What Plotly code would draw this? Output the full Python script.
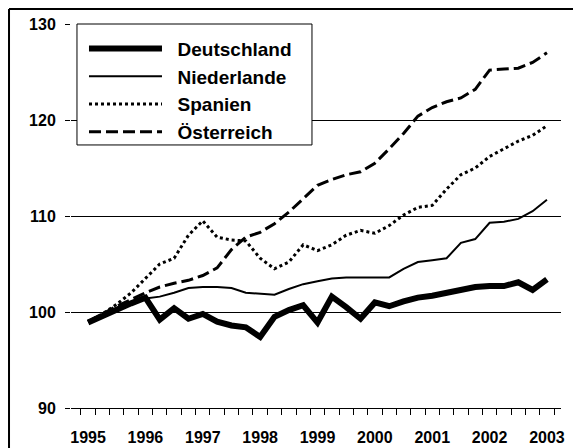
import plotly.graph_objects as go

quarters = [f"{y}Q{q}" for y in range(1995, 2004) for q in range(1, 5)][:33]
year_labels = ["1995", "1996", "1997", "1998", "1999", "2000", "2001", "2002", "2003"]

deutschland = [98.9, 99.6, 100.3, 100.9, 101.5, 99.2, 100.4, 99.3, 99.8, 99.0, 98.6, 98.4,
               97.4, 99.5, 100.2, 100.7, 98.9, 101.6, 100.5, 99.3, 101.0, 100.6, 101.1, 101.5,
               101.7, 102.0, 102.2, 102.6, 102.7, 102.7, 103.1, 102.3, 103.4]
niederlande = [99.0, 99.7, 100.4, 101.0, 101.4, 101.6, 102.0, 102.5, 102.6, 102.6, 102.5, 102.0,
               101.9, 101.8, 102.4, 102.9, 103.2, 103.5, 103.6, 103.6, 103.6, 103.6, 104.5, 105.2,
               105.4, 105.6, 107.2, 107.6, 109.3, 109.4, 109.7, 110.5, 111.7]
spanien = [99.0, 99.8, 100.8, 102.0, 103.5, 105.0, 105.6, 108.0, 109.5, 107.8, 107.5, 107.4,
           105.6, 104.5, 105.2, 107.0, 106.4, 107.0, 108.0, 108.5, 108.2, 109.0, 110.1, 110.9,
           111.1, 112.8, 114.3, 115.0, 116.2, 117.0, 117.8, 118.4, 119.4]
oesterreich = [99.0, 99.8, 100.6, 101.3, 102.0, 102.6, 103.0, 103.3, 103.8, 104.6, 106.5, 107.8,
               108.3, 109.2, 110.4, 111.8, 113.2, 113.8, 114.3, 114.6, 115.5, 117.0, 118.6, 120.4,
               121.3, 121.9, 122.3, 123.2, 125.2, 125.3, 125.4, 126.0, 127.0]

x = list(range(len(quarters)))

series = [
    ("Deutschland", deutschland, dict(color="black", width=6)),
    ("Niederlande", niederlande, dict(color="black", width=2)),
    ("Spanien", spanien, dict(color="black", width=3, dash="dot")),
    ("Österreich", oesterreich, dict(color="black", width=3, dash="12px,5px")),
]

fig = go.Figure()
for name, vals, line in series:
    fig.add_trace(go.Scatter(x=x, y=vals, name="\u00a0\u00a0" + name, mode="lines", line=line,
                             customdata=quarters))

tickfont = dict(size=16, family="Liberation Sans, Arial, sans-serif", weight="bold")

fig.update_layout(
    width=573, height=440,
    margin=dict(l=63, r=20, t=16, b=40),
    paper_bgcolor="white", plot_bgcolor="white",
    font=dict(family="Liberation Sans, Arial, sans-serif", color="black"),
    showlegend=True,
    legend=dict(x=0.0265, y=0.985, xanchor="left", yanchor="top",
                borderwidth=0, bgcolor="rgba(0,0,0,0)",
                font=dict(size=19, weight="bold"), itemwidth=73,
                traceorder="normal"),
    xaxis=dict(range=[-1.19, 32.98], showgrid=False, zeroline=False, automargin=False,
               showline=True, linecolor="black", linewidth=1,
               tickmode="array", tickvals=[0, 4, 8, 12, 16, 20, 24, 28, 32],
               ticktext=year_labels, ticks="",
               tickfont=tickfont,
               ticklabelstandoff=15,
               minor=dict(tick0=-0.5, dtick=1, ticks="outside", ticklen=6,
                          tickcolor="black", tickwidth=1, showgrid=False)),
    yaxis=dict(range=[90, 130], tickvals=[90, 100, 110, 120, 130], automargin=False,
               showgrid=True, gridcolor="black", gridwidth=1, zeroline=False,
               showline=False, ticks="outside", ticklen=5, tickcolor="black",
               tickfont=tickfont,
               ticklabelstandoff=6),
)

# legend frame
fig.add_shape(type="rect", xref="paper", yref="paper", x0=0.0122, x1=0.4918, y0=0.685, y1=1.0,
              fillcolor="white", line=dict(color="black", width=1), layer="above")
# outer frame (left and top edges)
fig.add_shape(type="line", xref="paper", yref="paper", x0=-0.1265, x1=1.05, y0=1.039, y1=1.039,
              line=dict(color="black", width=2))
fig.add_shape(type="line", xref="paper", yref="paper", x0=-0.1265, x1=-0.1265, y0=-0.11, y1=1.039,
              line=dict(color="black", width=2))

fig.write_html("out.html")
